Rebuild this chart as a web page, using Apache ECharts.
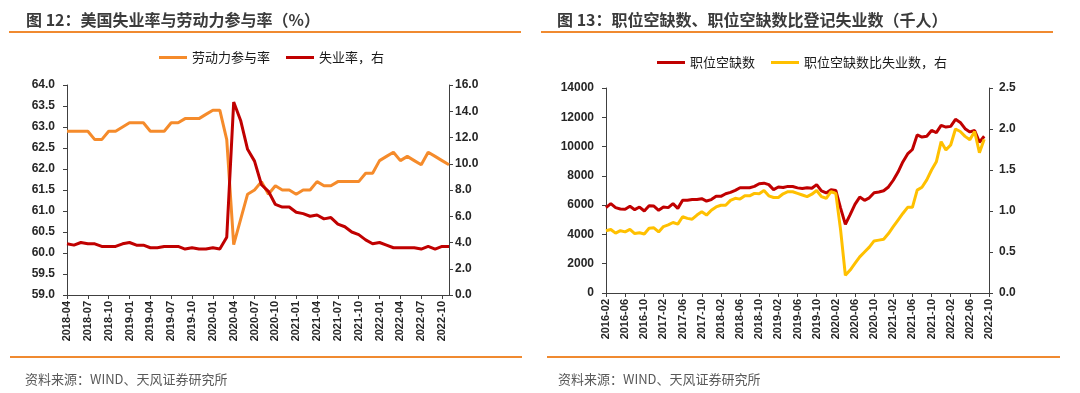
<!DOCTYPE html>
<html>
<head>
<meta charset="utf-8">
<script src="https://cdn.jsdelivr.net/npm/echarts@6/dist/echarts.min.js"></script>
<style>
html,body{margin:0;padding:0;background:#fff;}
#c{width:1080px;height:393px;}
</style>
</head>
<body>
<div id="c"></div>
<script>
// ---------- DATA ----------
// Left panel: monthly, 2018-04 .. 2022-11
const leftStart = '2018-04', leftEnd = '2022-11';
const lfpr = [
  62.9,62.9,62.9,62.9,62.7,62.7,62.9,62.9,63.0,
  63.1,63.1,63.1,62.9,62.9,62.9,63.1,63.1,63.2,63.2,63.2,63.3,
  63.4,63.4,62.7,60.2,60.8,61.4,61.5,61.7,61.4,61.6,61.5,61.5,
  61.4,61.5,61.5,61.7,61.6,61.6,61.7,61.7,61.7,61.7,61.9,61.9,
  62.2,62.3,62.4,62.2,62.3,62.2,62.1,62.4,62.3,62.2,62.1
];
const unemp = [
  3.9,3.8,4.0,3.9,3.9,3.7,3.7,3.7,3.9,
  4.0,3.8,3.8,3.6,3.6,3.7,3.7,3.7,3.5,3.6,3.5,3.5,
  3.6,3.5,4.4,14.7,13.3,11.1,10.2,8.4,7.9,6.9,6.7,6.7,
  6.3,6.2,6.0,6.1,5.8,5.9,5.4,5.2,4.8,4.6,4.2,3.9,
  4.0,3.8,3.6,3.6,3.6,3.6,3.5,3.7,3.5,3.7,3.7
];
// Right panel: monthly, 2016-02 .. 2022-10 (data through 2022-09)
const rightStart = '2016-02', rightEnd = '2022-10';
const jobOpenings = [
  5830,6100,5830,5740,5720,5920,5690,5870,5600,5960,5940,
  5650,5870,5830,6100,5780,6330,6330,6380,6380,6440,6280,6380,
  6600,6600,6780,6870,7010,7190,7190,7190,7280,7460,7500,7400,
  7060,7240,7200,7280,7270,7180,7130,7190,7150,7400,6970,6830,
  7060,7000,5800,4690,5350,6050,6550,6330,6500,6850,6900,6980,
  7240,7700,8260,8950,9500,9800,10800,10650,10700,11100,10950,11450,
  11330,11380,11860,11650,11220,11000,11100,10300,10700
];
const ratio = [
  0.76,0.775,0.73,0.76,0.745,0.775,0.725,0.735,0.72,0.79,0.795,
  0.745,0.81,0.83,0.86,0.84,0.93,0.91,0.90,0.95,0.99,0.95,1.01,
  1.05,1.07,1.07,1.13,1.155,1.145,1.185,1.185,1.215,1.21,1.25,1.185,
  1.165,1.165,1.21,1.235,1.235,1.215,1.195,1.175,1.205,1.25,1.175,1.155,
  1.235,1.215,0.77,0.215,0.28,0.36,0.44,0.50,0.56,0.635,0.645,0.655,
  0.725,0.81,0.89,0.97,1.045,1.045,1.255,1.29,1.38,1.50,1.60,1.845,
  1.745,1.805,2.0,1.97,1.91,1.87,1.97,1.71,1.875
];
const titleLeft = '图 12：美国失业率与劳动力参与率（%）';
const titleRight = '图 13：职位空缺数、职位空缺数比登记失业数（千人）';
const sourceText = '资料来源：WIND、天风证券研究所';
const legendLeft = ['劳动力参与率', '失业率，右'];
const legendRight = ['职位空缺数', '职位空缺数比失业数，右'];

function monthRange(a, b) {
  let [y, m] = a.split('-').map(Number);
  const [ye, me] = b.split('-').map(Number);
  const out = [];
  while (y < ye || (y === ye && m <= me)) {
    out.push(y + '-' + String(m).padStart(2, '0'));
    m++; if (m > 12) { m = 1; y++; }
  }
  return out;
}
const leftCats = monthRange(leftStart, leftEnd);
const rightCats = monthRange(rightStart, rightEnd);

// ---------- STYLE ----------
const ORANGE = '#F58B2B', RED = '#C00000', YELLOW = '#FFC000', RULE = '#F08A30';
const AX = '#404040';
const numFont = {fontFamily: 'Liberation Sans, Arial, sans-serif', fontWeight: 'bold', color: '#262626'};
const cjk = 'Noto Sans CJK SC, sans-serif';

function xAxisCfg(grid, cats, every) {
  return {
    type: 'category', gridIndex: grid, data: cats, boundaryGap: false,
    axisLine: {lineStyle: {color: AX, width: 1}},
    axisTick: {show: true, interval: every - 1, length: 4, lineStyle: {color: AX}},
    axisLabel: Object.assign({interval: every - 1, rotate: 90, fontSize: 11, margin: 6}, numFont),
    splitLine: {show: false}
  };
}
function yAxisCfg(grid, min, max, interval, pos, fmt, margin) {
  return {
    type: 'value', gridIndex: grid, min: min, max: max, interval: interval, position: pos,
    axisLine: {show: true, lineStyle: {color: AX, width: 1}},
    axisTick: {show: true, length: 4, lineStyle: {color: AX}},
    axisLabel: Object.assign({fontSize: 12, margin: margin, formatter: fmt}, numFont),
    splitLine: {show: false}
  };
}

const chart = echarts.init(document.getElementById('c'), null, {renderer: 'canvas'});
chart.setOption({
  animation: false,
  backgroundColor: '#ffffff',
  title: [
    {text: titleLeft, left: 21, top: 7, textStyle: {fontFamily: cjk, fontSize: 16, fontWeight: 'bold', color: '#3b3b3b'}},
    {text: titleRight, left: 552, top: 7, textStyle: {fontFamily: cjk, fontSize: 16, fontWeight: 'bold', color: '#3b3b3b'}},
    {text: sourceText, left: 20, top: 368, textStyle: {fontFamily: cjk, fontSize: 13, fontWeight: 'normal', color: '#595959'}},
    {text: sourceText, left: 553, top: 368, textStyle: {fontFamily: cjk, fontSize: 13, fontWeight: 'normal', color: '#595959'}}
  ],
  graphic: [
    {type: 'line', shape: {x1: 9, y1: 32, x2: 521, y2: 32}, style: {stroke: RULE, lineWidth: 2}},
    {type: 'line', shape: {x1: 541, y1: 32, x2: 1053, y2: 32}, style: {stroke: RULE, lineWidth: 2}},
    {type: 'line', shape: {x1: 10, y1: 357, x2: 522, y2: 357}, style: {stroke: RULE, lineWidth: 2}},
    {type: 'line', shape: {x1: 547, y1: 357, x2: 1060, y2: 357}, style: {stroke: RULE, lineWidth: 2}}
  ],
  legend: [
    {data: legendLeft, left: 154, top: 46, icon: 'rect', itemWidth: 28, itemHeight: 3, itemGap: 16,
     textStyle: {fontFamily: cjk, fontSize: 13, color: '#1a1a1a'}},
    {data: legendRight, left: 652, top: 51, icon: 'rect', itemWidth: 28, itemHeight: 3, itemGap: 16,
     textStyle: {fontFamily: cjk, fontSize: 13, color: '#1a1a1a'}}
  ],
  grid: [
    {left: 67, top: 85, width: 382, height: 210},
    {left: 606, top: 88, width: 383, height: 205}
  ],
  xAxis: [
    xAxisCfg(0, leftCats, 3),
    xAxisCfg(1, rightCats, 4)
  ],
  yAxis: [
    yAxisCfg(0, 59, 64, 0.5, 'left', v => v.toFixed(1), 12),
    yAxisCfg(0, 0, 16, 2, 'right', v => v.toFixed(1), 6),
    yAxisCfg(1, 0, 14000, 2000, 'left', v => String(v), 12),
    yAxisCfg(1, 0, 2.5, 0.5, 'right', v => v.toFixed(1), 10)
  ],
  series: [
    {name: legendLeft[0], type: 'line', xAxisIndex: 0, yAxisIndex: 0, data: lfpr, symbol: 'none',
     lineStyle: {color: ORANGE, width: 3}, itemStyle: {color: ORANGE}},
    {name: legendLeft[1], type: 'line', xAxisIndex: 0, yAxisIndex: 1, data: unemp, symbol: 'none',
     lineStyle: {color: RED, width: 3}, itemStyle: {color: RED}},
    {name: legendRight[0], type: 'line', xAxisIndex: 1, yAxisIndex: 2, data: jobOpenings, symbol: 'none',
     lineStyle: {color: RED, width: 3}, itemStyle: {color: RED}},
    {name: legendRight[1], type: 'line', xAxisIndex: 1, yAxisIndex: 3, data: ratio, symbol: 'none',
     lineStyle: {color: YELLOW, width: 3}, itemStyle: {color: YELLOW}}
  ]
});
</script>
</body>
</html>
